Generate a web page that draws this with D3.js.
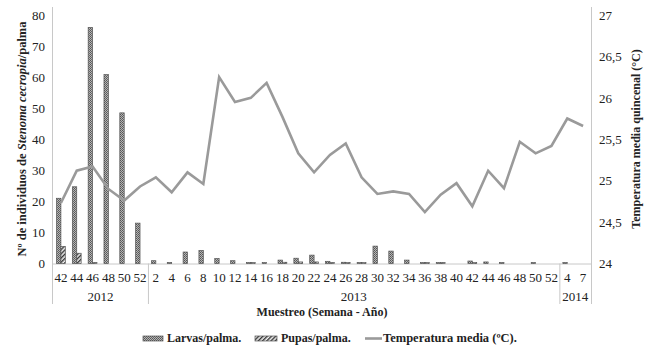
<!DOCTYPE html>
<html>
<head>
<meta charset="utf-8">
<script src="https://cdn.jsdelivr.net/npm/d3@7/dist/d3.min.js"></script>
<style>
  html, body { margin: 0; padding: 0; background: #fff; }
  svg { display: block; font-family: "Liberation Serif", "Times New Roman", serif; }
</style>
</head>
<body>
<svg id="chart" width="651" height="352"></svg>
<script>
// Sampling weeks grouped by year
const years = ["2012", "2013", "2014"];
const weeks = [
  ["42", "44", "46", "48", "50", "52"],
  ["2", "4", "6", "8", "10", "12", "14", "16", "18", "20", "22", "24", "26",
   "28", "30", "32", "34", "36", "38", "40", "42", "44", "46", "48", "50", "52"],
  ["4", "7"]
];

// Larvae per palm, one value per sampling week
const larvas = [
  21, 24.7, 76, 60.8, 48.5, 13,
  0.9, 0.3, 3.7, 4.2, 1.6, 0.9, 0.3, 0.3, 1.1, 1.7, 2.7, 0.7, 0.4,
  0.3, 5.6, 4.0, 1.1, 0.3, 0.3, 0, 0.8, 0.5, 0.3, 0, 0.3, 0,
  0.3, 0
];
// Pupae per palm
const pupas = [
  5.5, 3.3, 0.3, 0, 0, 0,
  0, 0, 0, 0, 0, 0, 0.3, 0, 0.4, 0.5, 0.5, 0.3, 0.3,
  0.3, 0, 0, 0, 0.3, 0.3, 0, 0.3, 0, 0, 0, 0, 0,
  0, 0
];
// Fortnightly mean temperature (°C)
const temperatura = [
  24.73, 25.12, 25.17, 24.90, 24.76, 24.93,
  25.04, 24.86, 25.10, 24.96, 26.25, 25.95, 26.00, 26.18, 25.77, 25.33, 25.10, 25.31, 25.45,
  25.04, 24.84, 24.87, 24.84, 24.62, 24.83, 24.97, 24.69, 25.12, 24.91, 25.47, 25.33, 25.42,
  25.75, 25.66
];

const leftTicks = [0, 10, 20, 30, 40, 50, 60, 70, 80];
const rightTicks = [24, 24.5, 25, 25.5, 26, 26.5, 27];

// Flatten into one row per sample
const rows = [];
weeks.forEach((ws, yi) => ws.forEach(w => rows.push({ year: years[yi], week: w, key: years[yi] + "-" + w })));
rows.forEach((r, i) => { r.larvas = larvas[i]; r.pupas = pupas[i]; r.temp = temperatura[i]; });

const svg = d3.select("#chart");
const M = { left: 53, right: 591, top: 15, bottom: 263.5 };
const axisColor = "#c8c8c8";
const textColor = "#222";
const serif = "'Liberation Serif', serif";

// Fill patterns for the two bar series
const defs = svg.append("defs");
const pl = defs.append("pattern").attr("id", "patLarvas").attr("patternUnits", "userSpaceOnUse")
  .attr("width", 2).attr("height", 2);
pl.append("rect").attr("width", 2).attr("height", 2).attr("fill", "#b5b5b5");
pl.append("rect").attr("width", 1).attr("height", 1).attr("fill", "#555");
pl.append("rect").attr("x", 1).attr("y", 1).attr("width", 1).attr("height", 1).attr("fill", "#666");

const pp = defs.append("pattern").attr("id", "patPupas").attr("patternUnits", "userSpaceOnUse")
  .attr("width", 3).attr("height", 3).attr("patternTransform", "rotate(45)");
pp.append("rect").attr("width", 3).attr("height", 3).attr("fill", "#f2f2f2");
pp.append("rect").attr("width", 1.4).attr("height", 3).attr("fill", "#333");

// Scales
const x = d3.scaleBand().domain(rows.map(r => r.key)).range([M.left, M.right]).paddingInner(0).paddingOuter(0);
const xs = d3.scaleBand().domain(["larvas", "pupas"]).range([x.bandwidth() / 2 - 4.4, x.bandwidth() / 2 + 4.4]);
const yL = d3.scaleLinear().domain([0, 80]).range([M.bottom, M.top]);
const yR = d3.scaleLinear().domain([24, 27]).range([M.bottom, M.top]);

// Axes lines
svg.append("line").attr("x1", M.left - 0.5).attr("x2", M.left - 0.5).attr("y1", 7).attr("y2", 304)
  .attr("stroke", axisColor).attr("stroke-width", 1);
svg.append("line").attr("x1", M.right + 0.5).attr("x2", M.right + 0.5).attr("y1", 7).attr("y2", 304)
  .attr("stroke", axisColor).attr("stroke-width", 1);
svg.append("line").attr("x1", M.left).attr("x2", M.right).attr("y1", M.bottom + 0.5).attr("y2", M.bottom + 0.5)
  .attr("stroke", axisColor).attr("stroke-width", 1);

// Left axis (counts)
const gL = svg.append("g").attr("transform", `translate(${M.left},0)`)
  .call(d3.axisLeft(yL).tickValues(leftTicks).tickSize(0).tickPadding(8).tickFormat(d3.format("d")));
gL.select(".domain").remove();
gL.selectAll("text").attr("font-size", 13).attr("fill", textColor).attr("font-family", serif);

// Right axis (temperature)
const gR = svg.append("g").attr("transform", `translate(${M.right},0)`)
  .call(d3.axisRight(yR).tickValues(rightTicks).tickSize(0).tickPadding(8)
    .tickFormat(d => String(d).replace(".", ",")));
gR.select(".domain").remove();
gR.selectAll("text").attr("font-size", 13).attr("fill", textColor).attr("font-family", serif);

// Bottom axis: week labels
const gX = svg.append("g").attr("transform", `translate(0,${M.bottom})`)
  .call(d3.axisBottom(x).tickSize(0).tickPadding(9).tickFormat(k => k.split("-")[1]));
gX.select(".domain").remove();
gX.selectAll("text").attr("font-size", 13).attr("fill", textColor).attr("font-family", serif);

// Year groups with separators
let start = 0;
weeks.forEach((ws, yi) => {
  const first = rows[start].key, last = rows[start + ws.length - 1].key;
  const x0 = x(first), x1 = x(last) + x.bandwidth();
  if (yi > 0) {
    svg.append("line").attr("x1", x0 + 0.5).attr("x2", x0 + 0.5).attr("y1", M.bottom).attr("y2", 304)
      .attr("stroke", axisColor).attr("stroke-width", 1);
  }
  svg.append("text").attr("x", (x0 + x1) / 2).attr("y", 301).attr("text-anchor", "middle")
    .attr("font-size", 13).attr("fill", textColor).text(years[yi]);
  start += ws.length;
});

// Bars
const g = svg.append("g");
["larvas", "pupas"].forEach(s => {
  g.selectAll("rect." + s).data(rows.filter(r => r[s] > 0)).join("rect")
    .attr("class", s)
    .attr("x", d => x(d.key) + xs(s))
    .attr("width", xs.bandwidth())
    .attr("y", d => yL(d[s]))
    .attr("height", d => Math.max(0.8, yL(0) - yL(d[s])))
    .attr("fill", s === "larvas" ? "url(#patLarvas)" : "url(#patPupas)")
    .attr("stroke", "#555")
    .attr("stroke-width", 0.7);
});

// Temperature line
const line = d3.line().x(d => x(d.key) + x.bandwidth() / 2).y(d => yR(d.temp));
svg.append("path").datum(rows).attr("d", line)
  .attr("fill", "none").attr("stroke", "#9a9a9a").attr("stroke-width", 2.6)
  .attr("stroke-linejoin", "miter");

// Axis titles
const tL = svg.append("text").attr("transform", "translate(26,139) rotate(-90)")
  .attr("text-anchor", "middle").attr("font-size", 12.5).attr("font-weight", "bold").attr("fill", textColor);
tL.append("tspan").text("Nº de individuos de ");
tL.append("tspan").attr("font-style", "italic").text("Stenoma cecropia");
tL.append("tspan").text("/palma");

svg.append("text").attr("transform", "translate(640,139) rotate(-90)")
  .attr("text-anchor", "middle").attr("font-size", 12).attr("font-weight", "bold").attr("fill", textColor)
  .text("Temperatura media quincenal (°C)");

svg.append("text").attr("x", 322).attr("y", 316).attr("text-anchor", "middle")
  .attr("font-size", 12).attr("font-weight", "bold").attr("fill", textColor)
  .text("Muestreo (Semana - Año)");

// Legend
const lg = svg.append("g").attr("font-size", 12).attr("font-weight", "bold").attr("fill", textColor);
lg.append("rect").attr("x", 143).attr("y", 336).attr("width", 20).attr("height", 5)
  .attr("fill", "url(#patLarvas)").attr("stroke", "#555").attr("stroke-width", 0.7);
lg.append("text").attr("x", 167).attr("y", 342).text("Larvas/palma.");
lg.append("rect").attr("x", 255).attr("y", 336).attr("width", 22).attr("height", 5)
  .attr("fill", "url(#patPupas)").attr("stroke", "#555").attr("stroke-width", 0.7);
lg.append("text").attr("x", 281).attr("y", 342).text("Pupas/palma.");
lg.append("line").attr("x1", 365).attr("x2", 382).attr("y1", 338.5).attr("y2", 338.5)
  .attr("stroke", "#9a9a9a").attr("stroke-width", 2.6);
lg.append("text").attr("x", 383).attr("y", 342).attr("font-size", 12.5).text("Temperatura media (ºC).");
</script>
</body>
</html>
